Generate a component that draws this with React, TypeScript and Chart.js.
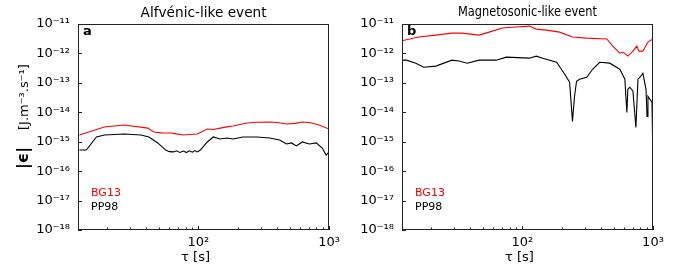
import React, { useEffect, useRef } from "react";
import { Chart, registerables } from "chart.js";

Chart.register(...registerables);

// ---------- data ----------
const panelTitles = ["Alfvénic-like event", "Magnetosonic-like event"];
const panelLetters = ["a", "b"];
const seriesNames = ["BG13", "PP98"];
const seriesColors = ["#ff0000", "#000000"];

const tauA_BG13 = [12.3, 19.1, 27.0, 41.1, 45.6, 52, 61.4, 68, 76.9, 85, 98.3, 117, 130, 147, 165, 184, 235, 280, 351, 400, 472, 550, 624, 720, 839, 1000];
const epsA_BG13 = [1.69e-15, 3.16e-15, 3.7e-15, 2.9e-15, 2.14e-15, 2.0e-15, 1.98e-15, 1.85e-15, 1.69e-15, 1.75e-15, 1.83e-15, 2.7e-15, 2.6e-15, 2.9e-15, 3.2e-15, 3.4e-15, 4.3e-15, 4.6e-15, 4.68e-15, 4.5e-15, 4.0e-15, 4.2e-15, 4.68e-15, 4.4e-15, 3.7e-15, 2.7e-15];

const tauA_PP98 = [12.3, 13.9, 16.6, 19.1, 27.0, 36.4, 41.8, 48.9, 56.2, 60, 64.7, 68, 72, 76.9, 81, 85, 90, 94, 98.3, 103.5, 117, 130, 147, 166, 184, 219, 280, 351, 418, 472, 515, 562, 624, 705, 797, 886, 949, 1000];
const epsA_PP98 = [5.2e-16, 5.2e-16, 1.45e-15, 1.69e-15, 1.83e-15, 1.69e-15, 1.45e-15, 9.1e-16, 5.2e-16, 4.6e-16, 4.5e-16, 4.9e-16, 4.3e-16, 4.8e-16, 4.3e-16, 4.9e-16, 4.4e-16, 5.0e-16, 4.5e-16, 5.2e-16, 9.8e-16, 1.45e-15, 1.24e-15, 1.34e-15, 1.24e-15, 1.45e-15, 1.45e-15, 1.34e-15, 1.14e-15, 8.4e-16, 9.1e-16, 7.2e-16, 9.8e-16, 8.4e-16, 9.1e-16, 6.1e-16, 3.5e-16, 4.5e-16];

const tauB_BG13 = [11.7, 16.1, 21.8, 28.9, 34.5, 46.7, 55.7, 70.2, 89.9, 113, 128, 153, 193, 242, 311, 443, 492, 557, 588, 642, 702, 753, 780, 837, 915, 1000];
const epsB_BG13 = [2.63e-12, 3.6e-12, 4.2e-12, 4.9e-12, 4.9e-12, 4.2e-12, 5.3e-12, 7.3e-12, 7.9e-12, 8.5e-12, 6.7e-12, 6.2e-12, 5.3e-12, 3.6e-12, 3.3e-12, 3.1e-12, 1.77e-12, 1.02e-12, 1.11e-12, 8.1e-13, 1.2e-12, 1.77e-12, 1.2e-12, 1.2e-12, 2.43e-12, 3.1e-12];

const tauB_PP98 = [11.7, 13.0, 15.3, 17.6, 21.8, 28.9, 32.7, 37.8, 46.7, 63.1, 75.4, 113, 128, 143, 183, 211, 230, 242, 251, 260, 274, 311, 345, 391, 467, 557, 609, 631, 642, 665, 702, 740, 767, 795, 837, 884, 900, 915, 948, 982, 1000];
const epsB_PP98 = [5.9e-13, 5.9e-13, 4.67e-13, 3.4e-13, 3.7e-13, 5.9e-13, 5.5e-13, 4.67e-13, 5.9e-13, 5.9e-13, 7.5e-13, 6.9e-13, 8.1e-13, 6.9e-13, 5.0e-13, 1.97e-13, 1.05e-13, 4.9e-15, 3.5e-14, 1.13e-13, 1.33e-13, 1.55e-13, 2.9e-13, 5.0e-13, 4.67e-13, 2.9e-13, 1.33e-13, 9.9e-15, 6.05e-14, 7.1e-14, 5.2e-14, 3.05e-15, 1.33e-13, 1.55e-13, 2.1e-13, 6.05e-14, 7.2e-15, 3.5e-14, 2.75e-14, 2.2e-14, 1.43e-16];

const yTickValues = [1e-18, 1e-17, 1e-16, 1e-15, 1e-14, 1e-13, 1e-12, 1e-11];
const yTickLabels = ["10⁻¹⁸", "10⁻¹⁷", "10⁻¹⁶", "10⁻¹⁵", "10⁻¹⁴", "10⁻¹³", "10⁻¹²", "10⁻¹¹"];
const xTickValues = [100, 1000];
const xTickLabels = ["10²", "10³"];
const xMinorTicks = [20, 30, 40, 50, 60, 70, 80, 90, 200, 300, 400, 500, 600, 700, 800, 900];

const xRange = [12, 1000];
const yRange = [1e-18, 1e-11];
const xTitle = "τ [s]";
const yTitleSymbol = "|ϵ|";
const yTitleUnit = "[J.m⁻³.s⁻¹]";

const FONT = "'DejaVu Sans', sans-serif";

type PanelCfg = {
  index: number;
  left: number;
  width: number;
  yAxisWidth: number;
  padRight: number;
  series: { tau: number[]; eps: number[] }[];
  titleSize: number;
  titleWidth: number;
  showYTitle: boolean;
};

const panels: PanelCfg[] = [
  {
    index: 0,
    left: 0,
    width: 345,
    yAxisWidth: 78,
    padRight: 15,
    series: [
      { tau: tauA_BG13, eps: epsA_BG13 },
      { tau: tauA_PP98, eps: epsA_PP98 },
    ],
    titleSize: 13.5,
    titleWidth: 126,
    showYTitle: true,
  },
  {
    index: 1,
    left: 345,
    width: 344,
    yAxisWidth: 57,
    padRight: 36,
    series: [
      { tau: tauB_BG13, eps: epsB_BG13 },
      { tau: tauB_PP98, eps: epsB_PP98 },
    ],
    titleSize: 13.3,
    titleWidth: 139,
    showYTitle: false,
  },
];

function makeDecor(cfg: PanelCfg) {
  return {
    id: "decor" + cfg.index,
    afterDraw(chart: any) {
      const ctx = chart.ctx as CanvasRenderingContext2D;
      const { left, right, top, bottom } = chart.chartArea;
      const xs = chart.scales.x;
      const ys = chart.scales.y;
      ctx.save();
      // frame
      ctx.strokeStyle = "#222";
      ctx.lineWidth = 1;
      ctx.strokeRect(Math.round(left) + 0.5, Math.round(top) + 0.5, Math.round(right - left) - 1, Math.round(bottom - top) - 1);
      // ticks (inward)
      ctx.beginPath();
      for (const v of yTickValues) {
        const y = Math.round(ys.getPixelForValue(v)) + 0.5;
        ctx.moveTo(left, y);
        ctx.lineTo(left + 4, y);
      }
      for (const v of xTickValues) {
        const x = Math.round(xs.getPixelForValue(v)) + 0.5;
        ctx.moveTo(x, bottom);
        ctx.lineTo(x, bottom - 4);
      }
      for (const v of xMinorTicks) {
        const x = Math.round(xs.getPixelForValue(v)) + 0.5;
        ctx.moveTo(x, bottom);
        ctx.lineTo(x, bottom - 2.5);
      }
      ctx.stroke();

      ctx.fillStyle = "#000";
      // title
      ctx.font = `${cfg.titleSize}px ${FONT}`;
      ctx.textBaseline = "middle";
      ctx.textAlign = "center";
      const t = panelTitles[cfg.index];
      const tw = ctx.measureText(t).width;
      const sx = cfg.titleWidth / tw;
      ctx.save();
      ctx.translate((left + right) / 2, 13);
      ctx.scale(sx, 1);
      ctx.fillText(t, 0, 0);
      ctx.restore();

      // panel letter
      ctx.font = `bold 13px ${FONT}`;
      ctx.textAlign = "left";
      ctx.fillText(panelLetters[cfg.index], left + 5, top + 8);

      // legend texts
      ctx.font = `11px ${FONT}`;
      ctx.fillStyle = seriesColors[0];
      ctx.fillText(seriesNames[0], left + 13, 193);
      ctx.fillStyle = seriesColors[1];
      ctx.fillText(seriesNames[1], left + 13, 207);

      // x title
      ctx.fillStyle = "#000";
      ctx.font = `13px ${FONT}`;
      ctx.textAlign = "center";
      ctx.fillText(xTitle, (left + right) / 2 - 8, 258);

      // y title
      if (cfg.showYTitle) {
        ctx.save();
        ctx.translate(24, 169);
        ctx.rotate(-Math.PI / 2);
        ctx.textAlign = "left";
        ctx.textBaseline = "middle";
        ctx.font = `bold 16px ${FONT}`;
        ctx.fillText(yTitleSymbol, 0, 0);
        ctx.font = `13px ${FONT}`;
        ctx.fillText(yTitleUnit, 39, 1);
        ctx.restore();
      }
      ctx.restore();
    },
  };
}

function Panel({ cfg }: { cfg: PanelCfg }) {
  const ref = useRef<HTMLCanvasElement | null>(null);
  useEffect(() => {
    if (!ref.current) return;
    const chart = new Chart(ref.current, {
      type: "line",
      data: {
        datasets: cfg.series.map((s, i) => ({
          label: seriesNames[i],
          data: s.tau.map((t, j) => ({ x: t, y: s.eps[j] })),
          borderColor: seriesColors[i],
          backgroundColor: seriesColors[i],
          borderWidth: 1.1,
          pointRadius: 0,
          tension: 0,
          fill: false,
        })),
      },
      options: {
        animation: false,
        responsive: false,
        maintainAspectRatio: false,
        events: [],
        layout: { padding: { left: 0, right: cfg.padRight, top: 24, bottom: 0 } },
        plugins: {
          legend: { display: false },
          tooltip: { enabled: false },
          title: { display: false },
        },
        scales: {
          x: {
            type: "logarithmic",
            min: xRange[0],
            max: xRange[1],
            grid: { display: false, drawTicks: false },
            border: { display: false },
            afterBuildTicks: (s: any) => {
              s.ticks = xTickValues.map((v) => ({ value: v }));
            },
            afterFit: (s: any) => {
              s.height = 44;
            },
            ticks: {
              autoSkip: false,
              maxRotation: 0,
              padding: 5,
              color: "#000",
              font: { family: FONT, size: 13 },
              callback: (v: any) => {
                const i = xTickValues.indexOf(Number(v));
                return i >= 0 ? xTickLabels[i] : "";
              },
            },
          },
          y: {
            type: "logarithmic",
            min: yRange[0],
            max: yRange[1],
            grid: { display: false, drawTicks: false },
            border: { display: false },
            afterBuildTicks: (s: any) => {
              s.ticks = yTickValues.map((v) => ({ value: v }));
            },
            afterFit: (s: any) => {
              s.width = cfg.yAxisWidth;
            },
            ticks: {
              autoSkip: false,
              padding: 8,
              color: "#000",
              font: { family: FONT, size: 13 },
              callback: (v: any) => {
                const i = yTickValues.indexOf(Number(v));
                return i >= 0 ? yTickLabels[i] : "";
              },
            },
          },
        },
      },
      plugins: [makeDecor(cfg)],
    } as any);
    return () => chart.destroy();
  }, [cfg]);
  return (
    <canvas
      ref={ref}
      width={cfg.width}
      height={274}
      style={{ position: "absolute", left: cfg.left, top: 0, width: cfg.width, height: 274 }}
    />
  );
}

export default function App() {
  return (
    <div style={{ position: "absolute", left: 0, top: 0, width: 689, height: 274, background: "#fff" }}>
      {panels.map((p) => (
        <Panel key={p.index} cfg={p} />
      ))}
    </div>
  );
}
